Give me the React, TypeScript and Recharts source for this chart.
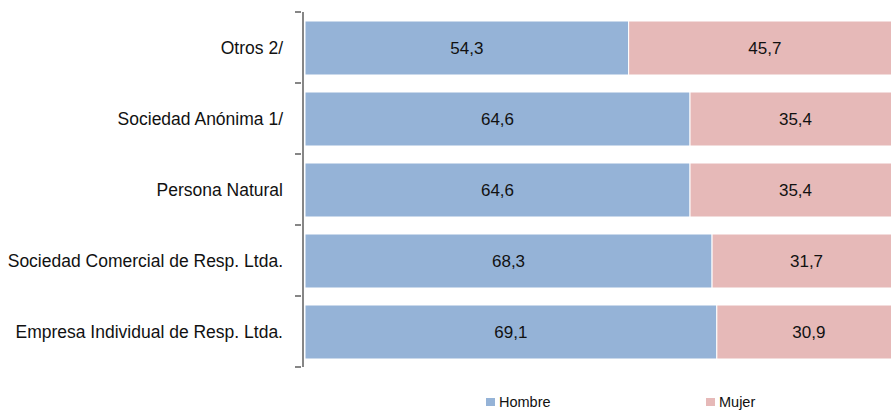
import { BarChart, Bar, XAxis, YAxis, Legend, LabelList } from 'recharts';

const categories = [
  'Otros 2/',
  'Sociedad Anónima 1/',
  'Persona Natural',
  'Sociedad Comercial de Resp. Ltda.',
  'Empresa Individual de Resp. Ltda.',
];
const hombre = [54.3, 64.6, 64.6, 68.3, 69.1];
const mujer = [45.7, 35.4, 35.4, 31.7, 30.9];

const data = categories.map((name, i) => ({ name, hombre: hombre[i], mujer: mujer[i] }));

const FONT = '"Liberation Sans", Arial, sans-serif';
const BLUE = '#95b3d7';
const PINK = '#e6b9b8';
const AXIS = '#868686';
const BAND = 71;

const fmt = (v: any) => Number(v).toFixed(1).replace('.', ',');

// excel-style ticks: marks sit on the band edges, not the centres
function CategoryTick(props: any) {
  const { x, y, payload, index } = props;
  const ax = x + 6;
  const last = index === categories.length - 1;
  return (
    <g>
      <line x1={ax - 6} x2={ax} y1={y - BAND / 2} y2={y - BAND / 2} stroke={AXIS} strokeWidth={2} />
      {last && <line x1={ax - 6} x2={ax} y1={y + BAND / 2} y2={y + BAND / 2} stroke={AXIS} strokeWidth={2} />}
      <text x={ax - 18} y={y} dy={6} textAnchor="end" fontSize={17.5} fill="#111" fontFamily={FONT}>
        {payload.value}
      </text>
    </g>
  );
}

function LegendBox() {
  const item = (color: string, label: string, left: number) => (
    <div style={{ position: 'absolute', left, top: 0, height: 16, display: 'flex', alignItems: 'center' }}>
      <span style={{ width: 9, height: 8, background: color, display: 'inline-block', marginRight: 4 }} />
      <span style={{ fontSize: 14.5, lineHeight: '16px', fontFamily: FONT, color: '#111' }}>{label}</span>
    </div>
  );
  return (
    <div style={{ position: 'relative', height: 16 }}>
      {item(BLUE, 'Hombre', 486)}
      {item(PINK, 'Mujer', 706)}
    </div>
  );
}

export default function App() {
  return (
    <div style={{ position: 'fixed', top: 0, left: 0, width: 891, height: 410, overflow: 'hidden', background: '#fff' }}>
      <BarChart
        width={905}
        height={410}
        data={data}
        layout="vertical"
        margin={{ top: 12, right: 4, bottom: 27, left: 0 }}
      >
        <XAxis type="number" domain={[0, 100]} hide padding={{ left: 2, right: 0 }} />
        <YAxis
          type="category"
          dataKey="name"
          width={303}
          axisLine={{ stroke: AXIS, strokeWidth: 2 }}
          tickLine={false}
          tick={<CategoryTick />}
          interval={0}
        />
        <Legend
          content={<LegendBox />}
          wrapperStyle={{ position: 'absolute', top: 394, bottom: 'auto', left: 0, width: 891, height: 16 }}
        />
        <Bar dataKey="hombre" name="Hombre" stackId="a" fill={BLUE} stroke="#fff" strokeWidth={1} barSize={54} isAnimationActive={false}>
          <LabelList dataKey="hombre" position="center" formatter={fmt} fill="#111" fontSize={17} fontFamily={FONT} />
        </Bar>
        <Bar dataKey="mujer" name="Mujer" stackId="a" fill={PINK} stroke="#fff" strokeWidth={1} barSize={54} isAnimationActive={false}>
          <LabelList dataKey="mujer" position="center" formatter={fmt} fill="#111" fontSize={17} fontFamily={FONT} />
        </Bar>
      </BarChart>
    </div>
  );
}
